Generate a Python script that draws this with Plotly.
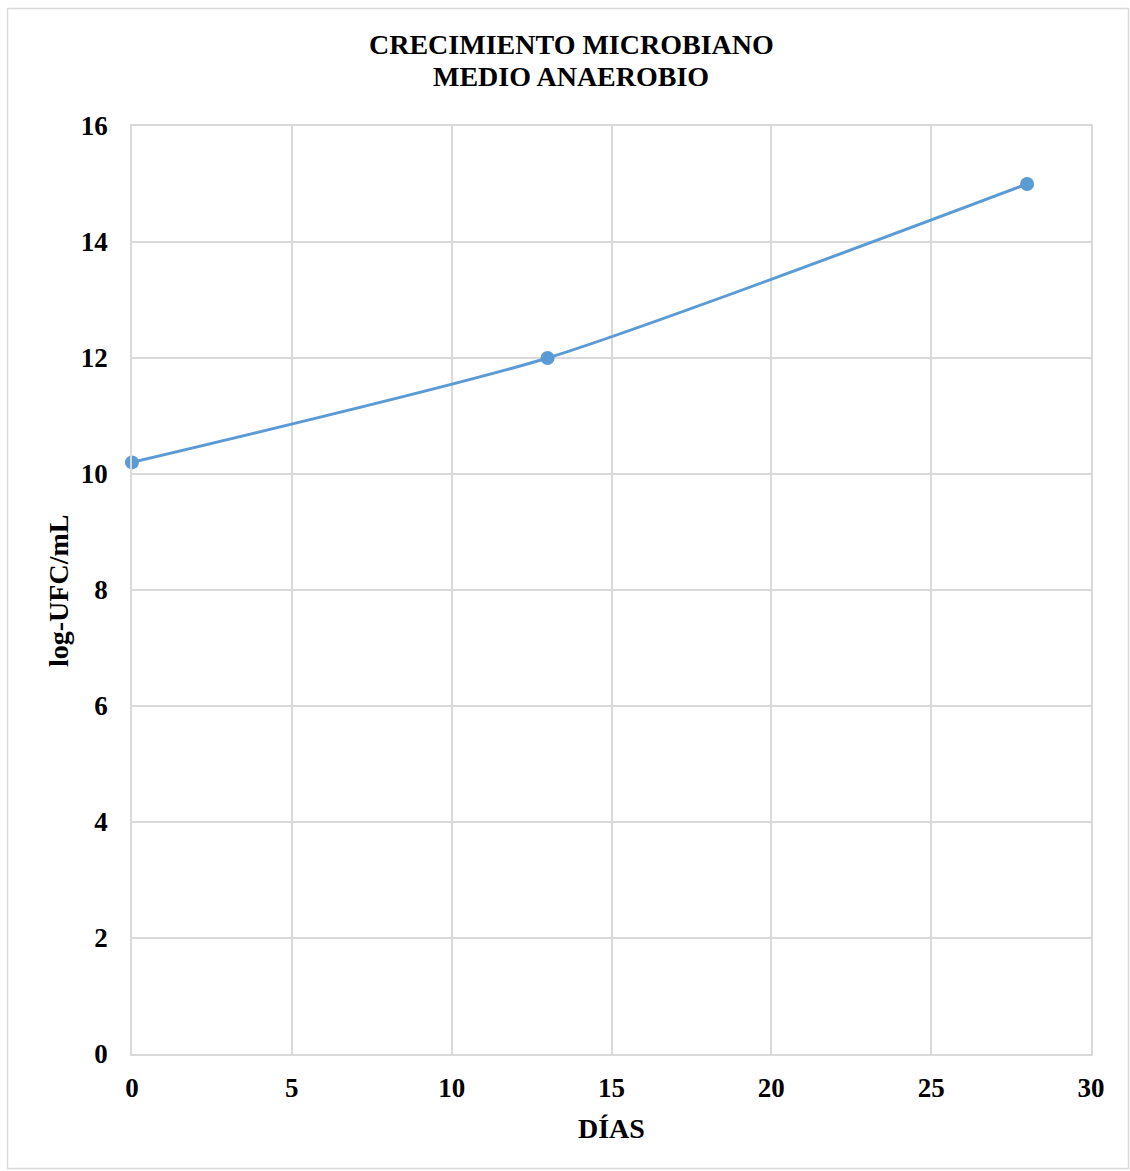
import plotly.graph_objects as go

dias = [0, 13, 28]
log_ufc = [10.2, 12.0, 15.0]
x_ticks = [0, 5, 10, 15, 20, 25, 30]
y_ticks = [0, 2, 4, 6, 8, 10, 12, 14, 16]
title_lines = ["CRECIMIENTO MICROBIANO", "MEDIO ANAEROBIO"]

W, H = 1130, 1171
L, R, T, B = 132, 1091, 126, 1054
pw, ph = R - L, B - T

font_family = "Liberation Serif, Times New Roman, serif"
grid = "#D9D9D9"

fig = go.Figure()
fig.add_trace(go.Scatter(
    x=dias, y=log_ufc, mode="lines+markers",
    line=dict(color="#5B9BD5", width=3, shape="spline", smoothing=0.6),
    marker=dict(color="#5B9BD5", size=14),
    showlegend=False, cliponaxis=False,
))

def px2x(p):
    return (p - L) / pw

def py2y(p):
    return (B - p) / ph

fig.add_shape(type="rect", xref="paper", yref="paper",
              x0=px2x(7.5), x1=px2x(1128.5), y0=py2y(1168.5), y1=py2y(8.5),
              line=dict(color="#D9D9D9", width=1.5), fillcolor="rgba(0,0,0,0)", layer="below")

for txt, yc in zip(title_lines, [45, 77]):
    fig.add_annotation(text=f"<b>{txt}</b>", xref="paper", yref="paper",
                       x=px2x(571), y=py2y(yc), xanchor="center", yanchor="middle",
                       showarrow=False,
                       font=dict(size=28, family=font_family, color="black"))

fig.add_annotation(text="<b>log-UFC/mL</b>", xref="paper", yref="paper",
                   x=px2x(58), y=py2y(591), xanchor="center", yanchor="middle",
                   textangle=-90, showarrow=False,
                   font=dict(size=28, family=font_family, color="black"))

fig.add_annotation(text="<b>DÍAS</b>", xref="paper", yref="paper",
                   x=px2x(611), y=py2y(1128), xanchor="center", yanchor="middle",
                   showarrow=False,
                   font=dict(size=28, family=font_family, color="black"))

fig.update_layout(
    width=W, height=H,
    margin=dict(l=L, r=W - R, t=T, b=H - B, pad=0),
    paper_bgcolor="white", plot_bgcolor="white",
    font=dict(family=font_family, color="black"),
    xaxis=dict(range=[0, 30], tickvals=x_ticks, ticktext=[f"<b>{v}</b>" for v in x_ticks],
               showgrid=True, gridcolor=grid, gridwidth=1.5,
               showline=True, linecolor=grid, linewidth=1.5, mirror=True,
               zeroline=False, ticks="", ticklabelstandoff=9,
               tickfont=dict(size=27, family=font_family, color="black")),
    yaxis=dict(range=[0, 16], tickvals=y_ticks, ticktext=[f"<b>{v}</b>" for v in y_ticks],
               showgrid=True, gridcolor=grid, gridwidth=1.5,
               showline=True, linecolor=grid, linewidth=1.5, mirror=True,
               zeroline=False, ticks="", ticklabelstandoff=17,
               tickfont=dict(size=27, family=font_family, color="black")),
)

fig.write_html("out.html")
